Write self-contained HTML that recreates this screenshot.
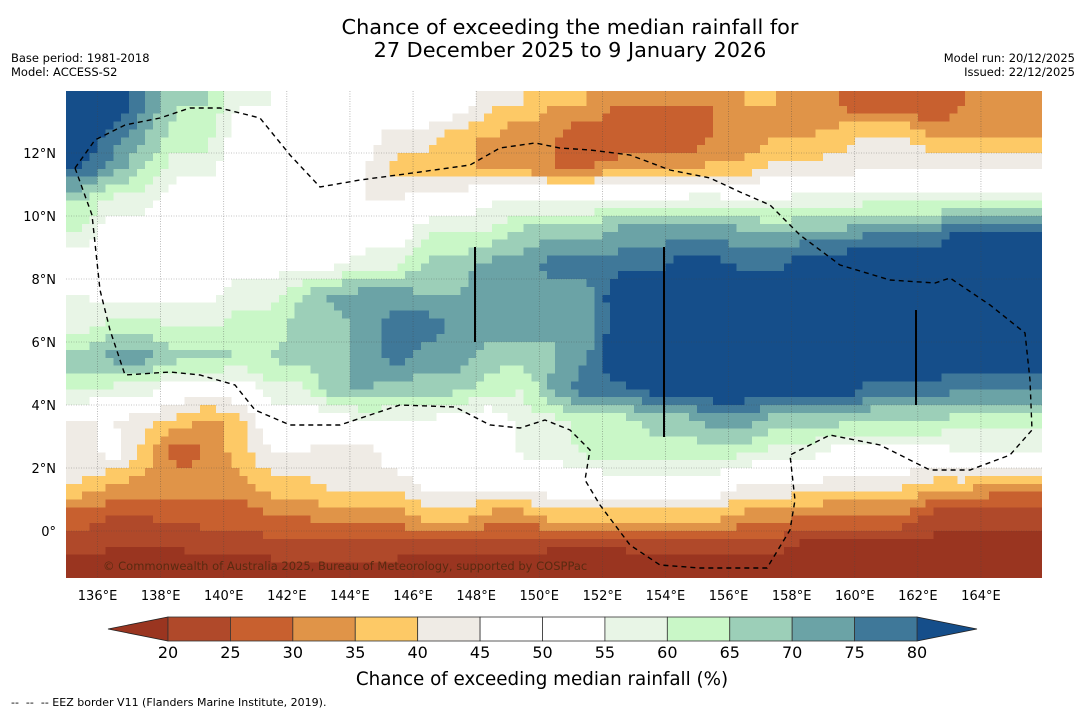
<!DOCTYPE html>
<html><head><meta charset="utf-8"><style>
body{margin:0;background:#fff;font-family:"Liberation Sans","DejaVu Sans",sans-serif;}
svg text{font-family:"DejaVu Sans","Liberation Sans",sans-serif;}
</style></head><body>
<svg id="chart" width="1085" height="713" viewBox="0 0 1085 713" xmlns="http://www.w3.org/2000/svg">
<rect width="1085" height="713" fill="#fff"/>
<text x="570" y="34" font-size="20.8" text-anchor="middle">Chance of exceeding the median rainfall for</text>
<text x="570" y="57" font-size="20.8" text-anchor="middle">27 December 2025 to 9 January 2026</text>
<text x="11" y="62" font-size="11.5">Base period: 1981-2018</text>
<text x="11" y="76" font-size="11.5">Model: ACCESS-S2</text>
<text x="1075" y="62" font-size="11.5" text-anchor="end">Model run: 20/12/2025</text>
<text x="1075" y="76" font-size="11.5" text-anchor="end">Issued: 22/12/2025</text>
<defs><clipPath id="mapclip"><rect x="66" y="91" width="976" height="487"/></clipPath></defs>
<g id="cells" clip-path="url(#mapclip)" shape-rendering="crispEdges"></g>
<g id="grid" clip-path="url(#mapclip)"></g>
<g clip-path="url(#mapclip)">
<path d="M75,168 L95,140 L125,125 L160,118 L190,108 L220,108 L260,118 L290,155 L320,187 L360,180 L420,172 L470,165 L500,148 L535,143 L560,148 L590,150 L630,155 L670,170 L710,178 L740,192 L770,205 L800,235 L840,265 L890,280 L935,283 L950,278 L990,305 L1025,333 L1030,380 L1032,430 L1010,455 L970,470 L930,470 L880,445 L830,435 L790,455 L795,500 L790,530 L767,568 L700,568 L660,565 L630,545 L600,505 L585,480 L590,450 L570,430 L545,420 L520,428 L490,425 L455,407 L400,405 L370,415 L340,425 L290,425 L255,410 L235,385 L200,375 L170,372 L125,375 L110,330 L100,290 L92,215 Z" fill="none" stroke="#000" stroke-width="1.4" stroke-dasharray="5,4"/>
<line x1="475" y1="247" x2="475" y2="342" stroke="#000" stroke-width="2"/>
<line x1="664" y1="247" x2="664" y2="437" stroke="#000" stroke-width="2"/>
<line x1="916" y1="310" x2="916" y2="405" stroke="#000" stroke-width="2"/>
</g>
<text x="103" y="570" font-size="11.5" fill="#5a2a10">© Commonwealth of Australia 2025, Bureau of Meteorology, supported by COSPPac</text>
<g id="axes"></g>
<g id="cbar"></g>
<text x="542" y="685" font-size="18.3" text-anchor="middle">Chance of exceeding median rainfall (%)</text>
<text x="11" y="706" font-size="11">-- &#160;-- &#160;-- EEZ border V11 (Flanders Marine Institute, 2019).</text>
</svg>
<script>
const lonStart = 135;
const latTops = [14,13,12,11,10,9,8,7,6,5,4,3,2,1,0,-1];
const values = [
[85,85,75,65,65,55,55,50,50,50,50,50,50,40,40,35,35,30,30,30,30,35,35,30,30,25,25,25,30,30,30],
[85,78,70,62,62,50,50,48,48,48,42,42,35,35,30,30,25,25,25,25,30,30,35,35,38,42,42,35,35,35,35],
[80,72,65,57,57,50,50,50,45,45,38,38,38,33,33,30,30,33,33,33,37,37,42,42,42,44,44,44,44,44,44],
[65,58,58,50,50,50,50,50,45,45,45,48,48,55,55,55,55,58,58,58,58,55,55,58,58,58,58,58,58,58,58],
[60,50,50,44,50,50,50,50,50,50,50,60,60,60,67,67,67,72,72,72,72,72,70,70,70,75,75,75,82,82,82],
[50,50,50,50,50,52,52,52,52,58,58,67,67,72,72,78,78,77,77,82,82,78,78,85,85,85,85,85,85,85,85],
[55,52,52,52,52,58,58,65,72,72,72,70,70,75,75,72,72,85,85,85,85,85,85,85,85,85,85,85,85,85,85],
[58,62,62,60,60,62,62,68,68,72,78,78,72,72,72,70,70,85,85,85,85,85,85,85,85,85,85,85,85,85,85],
[68,72,72,67,67,65,65,68,68,72,78,72,72,67,67,70,75,85,85,85,85,85,85,85,85,85,85,85,85,85,85],
[62,58,58,50,50,50,58,58,70,70,67,67,67,62,60,72,78,78,82,82,85,85,85,85,85,78,78,78,75,75,75],
[45,45,42,38,33,38,50,50,50,55,55,55,50,50,58,58,62,62,67,67,72,72,67,67,67,65,65,65,62,62,62],
[42,48,38,27,30,38,45,45,42,42,50,50,50,50,56,56,62,62,62,62,62,62,58,58,52,52,52,52,55,55,55],
[40,35,33,33,33,33,38,38,42,42,42,48,48,48,48,50,50,52,52,52,52,45,45,45,42,42,42,38,38,33,33],
[28,25,25,27,27,27,30,30,33,33,33,38,38,33,33,38,38,38,38,38,38,33,33,30,30,30,30,23,23,23,23],
[22,20,20,20,22,22,23,23,23,23,23,22,22,22,22,20,20,20,22,22,22,22,22,18,18,18,18,18,18,18,18],
[15,15,15,15,15,15,15,15,15,15,15,15,15,15,15,15,15,15,15,15,15,15,15,15,15,15,15,15,15,15,15]
];
const cbTicks = [20,25,30,35,40,45,50,55,60,65,70,75,80];
const lonTicks = [136,138,140,142,144,146,148,150,152,154,156,158,160,162,164];
const latTicks = [0,2,4,6,8,10,12];
const colors = ['#9a3520','#b0492a','#c8602f','#e09448','#fdc966','#efebe5','#ffffff','#ffffff','#e8f5e6','#c9f7c7','#9ccfb8','#6ba3a6','#3f7899','#154e8a'];
const NS='http://www.w3.org/2000/svg';
const X = lon => 66 + (lon-135)*31.55;
const Y = lat => 531 - lat*31.5;
function col(v){ if(v<20) return colors[0]; if(v>=80) return colors[13]; return colors[1+Math.floor((v-20)/5)]; }
function mk(t,a,p){const e=document.createElementNS(NS,t);for(const k in a)e.setAttribute(k,a[k]);p.appendChild(e);return e;}
const nR=values.length, nC=values[0].length;
function at(r,c){r=Math.max(0,Math.min(nR-1,r));c=Math.max(0,Math.min(nC-1,c));return values[r][c];}
function sample(fr,fc){ // fractional row/col indices relative to cell centers
  const r0=Math.floor(fr), c0=Math.floor(fc), dr=fr-r0, dc=fc-c0;
  return at(r0,c0)*(1-dr)*(1-dc)+at(r0,c0+1)*(1-dr)*dc+at(r0+1,c0)*dr*(1-dc)+at(r0+1,c0+1)*dr*dc;
}
const cells=document.getElementById('cells');
const S=4;
for(let r=0;r<nR;r++)for(let c=0;c<nC;c++){
  const g=mk('g',{},cells);
  
  
  for(let i=0;i<S;i++)for(let j=0;j<S;j++){
    const fr=r+(i+0.5)/S-0.5, fc=c+(j+0.5)/S-0.5;
    const v=sample(fr,fc);
    const lon=lonStart+c+j/S, lat=latTops[r]-i/S;
    mk('rect',{x:X(lon).toFixed(2),y:Y(lat).toFixed(2),width:(31.55/S+0.5).toFixed(2),height:(31.5/S+0.5).toFixed(2),fill:col(v)},g);
  }
}
const grid=document.getElementById('grid'), axes=document.getElementById('axes');
lonTicks.forEach(l=>{
  const g=mk('line',{x1:X(l),x2:X(l),y1:91,y2:578,stroke:'#444','stroke-width':0.6,'stroke-dasharray':'1,1.5',opacity:0.6},grid);
  
  
  const t=mk('text',{x:X(l),y:600,'font-size':13,'text-anchor':'middle'},axes);t.textContent=l+'°E';
  
  
});
latTicks.forEach(l=>{
  const g=mk('line',{x1:66,x2:1042,y1:Y(l),y2:Y(l),stroke:'#444','stroke-width':0.6,'stroke-dasharray':'1,1.5',opacity:0.6},grid);
  
  
  const t=mk('text',{x:56,y:Y(l)+5,'font-size':13,'text-anchor':'end'},axes);t.textContent=l===0?'0°':l+'°N';
  
  
});
const cb=document.getElementById('cbar');
const CX=v=>168+(v-20)*(917-168)/60;
const lt=mk('polygon',{points:`168,617 168,641 108,629`,fill:colors[0],stroke:'#222','stroke-width':0.8},cb);


const rt=mk('polygon',{points:`917,617 917,641 977,629`,fill:colors[13],stroke:'#222','stroke-width':0.8},cb);


for(let i=0;i<cbTicks.length-1;i++){
  const b=mk('rect',{x:CX(cbTicks[i]),y:617,width:CX(cbTicks[i+1])-CX(cbTicks[i]),height:24,fill:col(cbTicks[i]+1),stroke:'#333','stroke-width':0.8},cb);
  
  
}
cbTicks.forEach(v=>{
  const t=mk('text',{x:CX(v),y:658,'font-size':16,'text-anchor':'middle'},cb);t.textContent=v;
  
  
});
</script>
</body></html>
